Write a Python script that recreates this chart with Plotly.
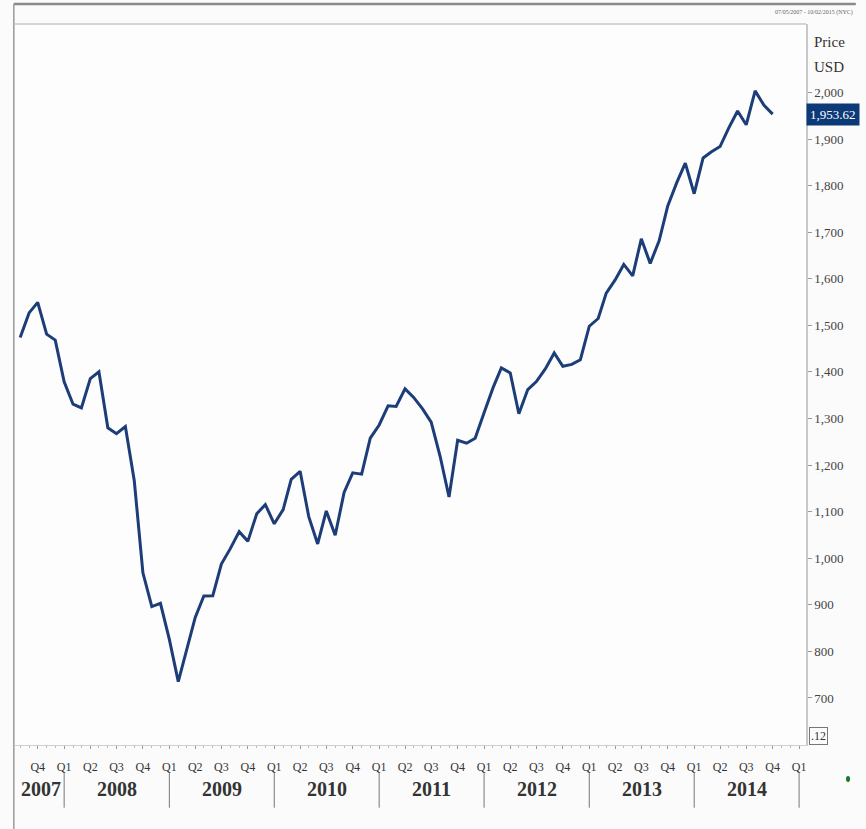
import pandas as pd
import plotly.graph_objects as go

# ---- data: monthly index closes, Aug 2007 .. Oct 2014 ----
first_month = "2007-08-01"
v2007 = [1473.99, 1526.75, 1549.38, 1481.14, 1468.36]
v2008 = [1378.55, 1330.63, 1322.70, 1385.59, 1400.38, 1280.00, 1267.38, 1282.83, 1166.36, 968.75, 896.24, 903.25]
v2009 = [825.88, 735.09, 797.87, 872.81, 919.14, 919.32, 987.48, 1020.62, 1057.08, 1036.19, 1095.63, 1115.10]
v2010 = [1073.87, 1104.49, 1169.43, 1186.69, 1089.41, 1030.71, 1101.60, 1049.33, 1141.20, 1183.26, 1180.55, 1257.64]
v2011 = [1286.12, 1327.22, 1325.83, 1363.61, 1345.20, 1320.64, 1292.28, 1218.89, 1131.42, 1253.30, 1246.96, 1257.60]
v2012 = [1312.41, 1365.68, 1408.47, 1397.91, 1310.33, 1362.16, 1379.32, 1406.58, 1440.67, 1412.16, 1416.18, 1426.19]
v2013 = [1498.11, 1514.68, 1569.19, 1597.57, 1630.74, 1606.28, 1685.73, 1632.97, 1681.55, 1756.54, 1805.81, 1848.36]
v2014 = [1782.59, 1859.45, 1872.34, 1883.95, 1923.57, 1960.23, 1930.67, 2003.37, 1972.29, 1953.62]

values = v2007 + v2008 + v2009 + v2010 + v2011 + v2012 + v2013 + v2014
dates = pd.date_range(first_month, periods=len(values), freq="MS")
last_value = values[-1]

quarter_dates = ["2007-10-01"] + [f"{y}-{m:02d}-01" for y in range(2008, 2015) for m in (1, 4, 7, 10)] + ["2015-01-01"]
quarter_text = ["Q4"] + ["Q1", "Q2", "Q3", "Q4"] * 7 + ["Q1"]
year_labels = ["2007", "2008", "2009", "2010", "2011", "2012", "2013", "2014"]
year_centers = ["2007-10-13"] + [f"{y}-07-02" for y in range(2008, 2015)]
year_bounds = [f"{y}-01-01" for y in range(2008, 2016)]
y_ticks = list(range(700, 2001, 100))

SERIF = "Liberation Serif, Times New Roman, serif"
LINE = "#1c3d78"

fig = go.Figure()
fig.add_trace(go.Scatter(x=dates, y=values, mode="lines",
                         line=dict(color=LINE, width=3), showlegend=False,
                         hoverinfo="x+y"))

fig.update_layout(
    width=866, height=829,
    margin=dict(l=15, r=60, t=24, b=84),
    paper_bgcolor="#fbfbfb", plot_bgcolor="#fdfdfd",
    xaxis=dict(type="date", range=["2007-07-14", "2015-01-25"],
               tickmode="array", tickvals=quarter_dates, ticktext=quarter_text,
               ticks="outside", ticklen=3, tickcolor="#999",
               tickfont=dict(family=SERIF, size=12, color="#333"),
               ticklabelstandoff=8,
               minor=dict(ticks="outside", ticklen=2, dtick="M1", tick0="2007-01-01", tickcolor="#bbb", showgrid=False),
               showgrid=False, zeroline=False, showline=True, linecolor="#d0d0d0", linewidth=1),
    yaxis=dict(side="right", range=[599, 2147],
               tickmode="array", tickvals=y_ticks, tickformat=",",
               ticks="outside", ticklen=4, tickcolor="#999",
               tickfont=dict(family=SERIF, size=13, color="#444"),
               showgrid=False, zeroline=False, showline=True, linecolor="#c8c8c8", linewidth=1.5),
)

anns = []
for lab, xc in zip(year_labels, year_centers):
    anns.append(dict(x=xc, y=-0.061, xref="x", yref="paper", text=f"<b>{lab}</b>", showarrow=False,
                     font=dict(family=SERIF, size=20, color="#333"), xanchor="center", yanchor="middle"))
anns += [
    dict(x=1.008, y=0.975, xref="paper", yref="paper", text="Price", showarrow=False,
         font=dict(family=SERIF, size=15, color="#333"), xanchor="left", yanchor="middle"),
    dict(x=1.008, y=0.940, xref="paper", yref="paper", text="USD", showarrow=False,
         font=dict(family=SERIF, size=15, color="#333"), xanchor="left", yanchor="middle"),
    dict(x=1.0, y=last_value, xref="paper", yref="y", text=f"{last_value:,.2f}", showarrow=False,
         font=dict(family=SERIF, size=13, color="white"), bgcolor="#0c3a78",
         xanchor="left", yanchor="middle", borderpad=3),
    dict(x=1.062, y=1.0166, xref="paper", yref="paper", text="07/05/2007 - 10/02/2015 (NYC)", showarrow=False,
         font=dict(family=SERIF, size=6, color="#666"), xanchor="right", yanchor="middle"),
    dict(x=1.004, y=0.012, xref="paper", yref="paper", text=".12", showarrow=False,
         font=dict(family=SERIF, size=12, color="#333"), xanchor="left", yanchor="middle",
         bordercolor="#777", borderwidth=1, borderpad=1),
]
fig.update_layout(annotations=anns)

shapes = []
for b in year_bounds:
    shapes.append(dict(type="line", xref="x", yref="paper", x0=b, x1=b, y0=-0.039, y1=-0.087,
                       line=dict(color="#777", width=1)))
shapes += [
    dict(type="line", xref="paper", yref="paper", x0=-0.0015, x1=1.063, y0=1.0277, y1=1.0277,
         line=dict(color="#8a8a8a", width=2.5)),
    dict(type="line", xref="paper", yref="paper", x0=-0.0015, x1=-0.0015, y0=1.0277, y1=-0.12,
         line=dict(color="#9a9a9a", width=1.5)),
    dict(type="line", xref="paper", yref="paper", x0=0, x1=1, y0=1, y1=1,
         line=dict(color="#c8c8c8", width=1.5)),
    dict(type="circle", xref="paper", yref="paper", x0=1.0506, x1=1.0557, y0=-0.0430, y1=-0.0514,
         fillcolor="#1a7a2a", line=dict(color="#1a7a2a", width=0)),
]
fig.update_layout(shapes=shapes)

fig.write_html("out.html", config={"displayModeBar": False},
               post_script="document.body.style.margin='0';document.body.style.overflow='hidden';")
